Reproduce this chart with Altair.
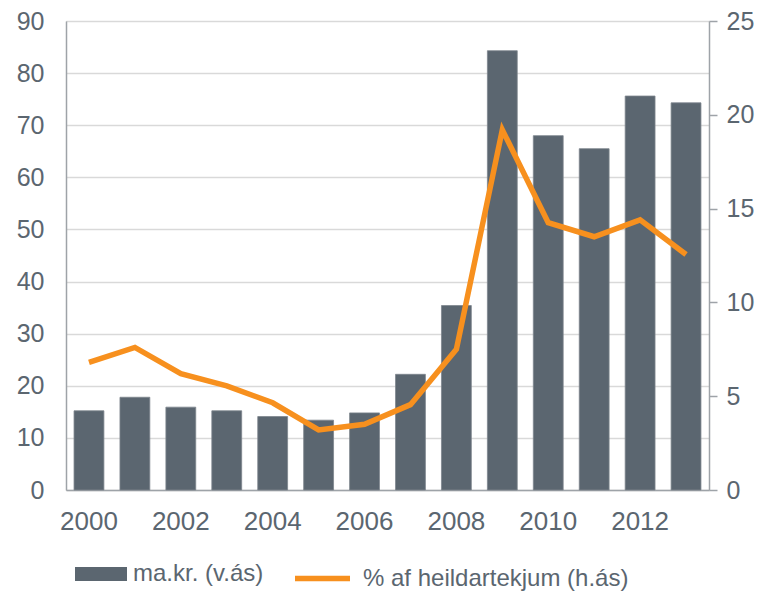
import altair as alt
import pandas as pd

years = list(range(2000, 2014))
makr = [15.2, 17.8, 15.9, 15.2, 14.1, 13.4, 14.8, 22.2, 35.4, 84.3, 68.0, 65.5, 75.6, 74.3]
pct = [6.8, 7.6, 6.2, 5.55, 4.65, 3.2, 3.5, 4.55, 7.5, 19.2, 14.25, 13.5, 14.4, 12.55]

bar_name = "ma.kr. (v.ás)"
line_name = "% af heildartekjum (h.ás)"

df = pd.DataFrame({"year": years, "makr": makr, "pct": pct,
                   "s1": bar_name, "s2": line_name})

GRAY = "#5b6670"
ORANGE = "#f7901e"
AXIS = "#9ea3a8"
FONT = "Liberation Sans"
FS = 25

x = alt.X("year:O", title=None,
          scale=alt.Scale(paddingInner=0.35, paddingOuter=0.175),
          axis=alt.Axis(values=[2000, 2002, 2004, 2006, 2008, 2010, 2012],
                        labelAngle=0, ticks=False, domainColor=AXIS, domainWidth=1.5,
                        labelFontSize=26, labelColor=GRAY, labelPadding=18,
                        labelFont=FONT, grid=False))

bars = alt.Chart(df).mark_bar(stroke="#7d858d", strokeWidth=0.8).encode(
    x=x,
    y=alt.Y("makr:Q", title=None,
            scale=alt.Scale(domain=[0, 90], nice=False),
            axis=alt.Axis(values=list(range(0, 91, 10)), ticks=False,
                          domainColor=AXIS, domainWidth=1.5,
                          gridColor="#d9d9d9", gridWidth=1.5,
                          labelFontSize=FS, labelColor=GRAY, labelPadding=22,
                          labelFont=FONT)),
    color=alt.Color("s1:N", scale=alt.Scale(domain=[bar_name], range=[GRAY]),
                    legend=alt.Legend(title=None, orient="none", legendX=9, legendY=527,
                                      symbolType="M-1,-0.27H1V0.27H-1Z", symbolSize=2704,
                                      symbolStrokeWidth=0, symbolOpacity=1,
                                      labelFontSize=24, labelColor=GRAY, labelFont=FONT,
                                      labelOffset=6, labelLimit=400)),
)

line = alt.Chart(df).mark_line(color=ORANGE, strokeWidth=5.5).encode(
    x=x,
    y=alt.Y("pct:Q", title=None,
            scale=alt.Scale(domain=[0, 25], nice=False),
            axis=alt.Axis(orient="right", values=[0, 5, 10, 15, 20, 25],
                          tickSize=8, tickColor=AXIS, tickWidth=1.5,
                          domainColor=AXIS, domainWidth=1.5, grid=False,
                          labelFontSize=FS, labelColor=GRAY, labelPadding=9,
                          labelFont=FONT)),
    stroke=alt.Stroke("s2:N", scale=alt.Scale(domain=[line_name], range=[ORANGE]),
                      legend=alt.Legend(title=None, orient="none", legendX=226, legendY=527,
                                        symbolType="stroke", symbolSize=3025,
                                        symbolStrokeWidth=5.5,
                                        labelFontSize=24, labelColor=GRAY, labelFont=FONT,
                                        labelOffset=10, labelLimit=400)),
)

chart = alt.layer(bars, line).resolve_scale(
    y="independent", color="independent", stroke="independent"
).properties(
    width=643, height=469,
    autosize=alt.AutoSizeParams(type="none"),
    padding={"left": 58, "top": 13, "right": 46, "bottom": 101},
).configure_view(stroke=None).configure(background="white")

chart.save("out.html", embed_options={"renderer": "svg", "actions": False})
